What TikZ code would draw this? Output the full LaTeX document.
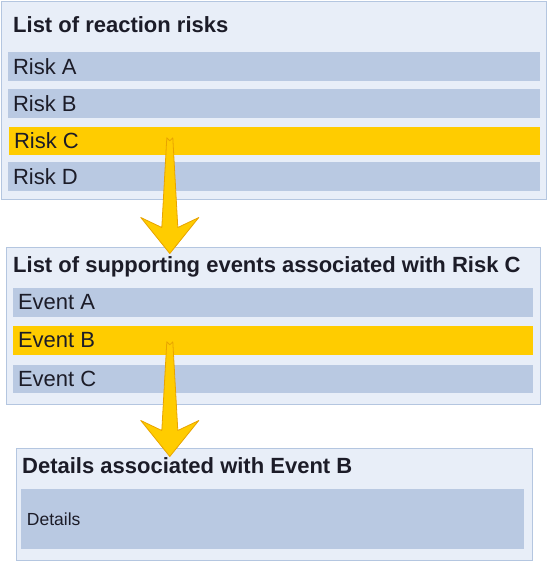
\documentclass[tikz,border=0pt]{standalone}
\usepackage{fontspec}
\setmainfont{Liberation Sans}
\usetikzlibrary{fit,positioning,calc}
\definecolor{panelfill}{HTML}{E8EEF8}
\definecolor{panelline}{HTML}{B4C6E0}
\definecolor{rowfill}{HTML}{B9C9E2}
\definecolor{pickfill}{HTML}{FFCC00}
\definecolor{arrowline}{HTML}{E8A400}
\definecolor{ink}{HTML}{1C1C28}
\newcommand{\fatarrow}[2]{\filldraw[fill=pickfill, draw=arrowline, line width=0.8pt,
    line join=round] ($(#1)+(-3,0)$) -- ($(#1)+(0,3)$) -- ($(#1)+(3,0)$) --
  ($(#2)+(8,-26)$) -- ($(#2)+(29,-36)$) -- (#2) -- ($(#2)+(-29,-36)$) --
  ($(#2)+(-8,-26)$) -- cycle;}

\begin{document}
\begin{tikzpicture}[x=1pt,y=-1pt, text=ink,
    panel/.style={draw=panelline, fill=panelfill, line width=1pt, inner sep=0pt},
    row/.style={fill=rowfill, inner sep=0pt},
    pick/.style={fill=pickfill, inner sep=0pt},
    title/.style={anchor=base west, inner sep=0pt, font=\fontsize{22}{26}\selectfont\bfseries},
    entry/.style={anchor=west, inner sep=0pt, font=\fontsize{22}{26}\selectfont}]
  \useasboundingbox (0,0) rectangle (548,562);

  \node[fit={(1,1) (546,199)}, panel] (risks) {}; \node[title] (riskstitle) at
  (13,32) {List of reaction risks};
  \node[fit={(8,52) (540,81)}, row] (riskA) {}; \node[entry] at
  ($(riskA.west)+(5,0)$) {Risk A}; \node[fit={(8,89) (540,118)}, row] (riskB)
  {}; \node[entry] at ($(riskB.west)+(5,0)$) {Risk B};
  \node[fit={(9,127) (540,155)}, pick] (riskC) {}; \node[entry] at
  ($(riskC.west)+(5,0)$) {Risk C}; \node[fit={(8,162) (540,191)}, row] (riskD)
  {}; \node[entry] at ($(riskD.west)+(5,0)$) {Risk D};

  \node[fit={(6,247) (540,404)}, panel] (events) {}; \node[title]
  (eventstitle) at (13,272) {List of supporting events associated with Risk C};
  \node[fit={(13,288) (533,317)}, row] (eventA) {}; \node[entry] at
  ($(eventA.west)+(5,0)$) {Event A}; \node[fit={(13,326) (533,355)}, pick]
  (eventB) {}; \node[entry] at ($(eventB.west)+(5,0)$) {Event B};
  \node[fit={(13,365) (533,393)}, row] (eventC) {}; \node[entry] at
  ($(eventC.west)+(5,0)$) {Event C};

  \node[fit={(16,448) (532,560)}, panel] (details) {}; \node[title]
  (detailstitle) at (22,473) {Details associated with Event B};
  \node[fit={(21,489) (524,549)}, row] (detailsbox) {}; \node[entry,
  font=\fontsize{17.5}{21}\selectfont] at ($(detailsbox.west)+(6,0)$) {Details};

  \coordinate (tailA) at ($(riskC.north west)+(161,11)$);
  \coordinate (tipA) at ($(events.north -| tailA)+(0,7)$);
  \fatarrow{tailA}{tipA}
  \coordinate (tailB) at ($(eventB.north west)+(157,16)$);
  \coordinate (tipB) at ($(details.north -| tailB)+(0,9)$);
  \fatarrow{tailB}{tipB}
\end{tikzpicture}
\end{document}
